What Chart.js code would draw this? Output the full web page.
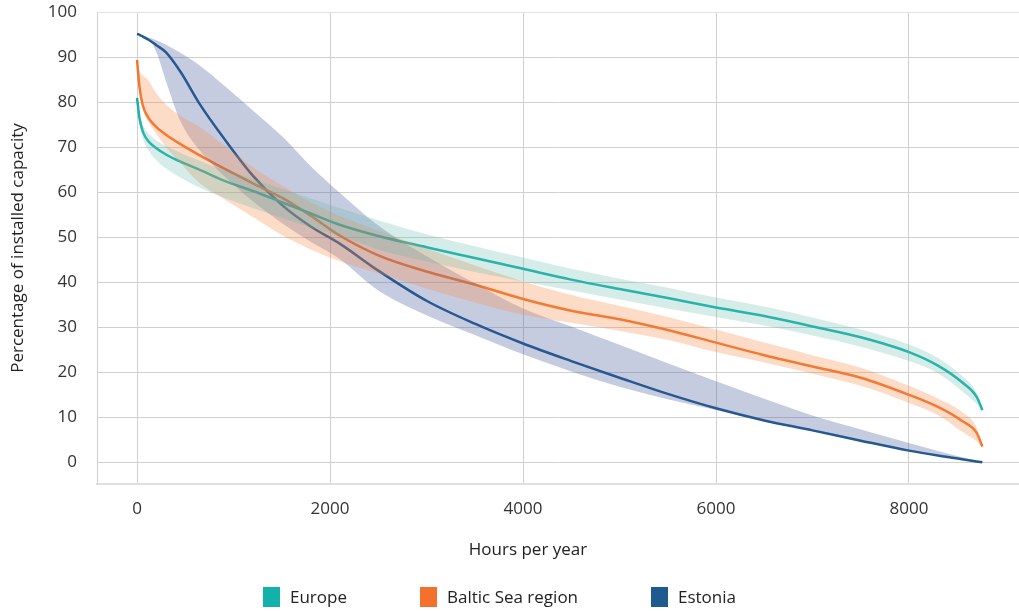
<!DOCTYPE html>
<html>
<head>
<meta charset="utf-8">
<script src="https://cdn.jsdelivr.net/npm/chart.js@4.4.1/dist/chart.umd.min.js"></script>
<style>
  html, body { margin: 0; padding: 0; background: #fff; }
  #wrap { position: relative; width: 1019px; height: 611px; overflow: hidden; font-family: 'Open Sans', sans-serif; color: #222; }
  #chart { position: absolute; left: 0; top: 0; }
  #xtitle { position: absolute; left: 428px; width: 200px; top: 538px; text-align: center; font-size: 17px; line-height: 22px; }
  .legend-item { position: absolute; top: 587px; display: flex; align-items: center; font-size: 17px; line-height: 20px; }
  .legend-box { width: 17px; height: 20px; margin-right: 10px; }
</style>
</head>
<body>
<div id="wrap">
  <canvas id="chart" width="1019" height="611"></canvas>
  <div id="xtitle">Hours per year</div>
  <div id="legend"></div>
</div>
<script>
// --- Data ---
const HOURS = [0, 25, 60, 120, 200, 300, 450, 650, 900, 1200, 1500, 1800, 2100, 2500, 3000,
               3500, 4000, 4500, 5000, 5500, 6000, 6500, 7000, 7500, 8000, 8300, 8550, 8700, 8760];

const EUROPE      = [81, 76.5, 73.5, 71.3, 69.8, 68.4, 66.8, 65, 62.6, 60.3, 57.8, 55.3, 52.8, 50.3, 47.8,
                     45.4, 43, 40.6, 38.5, 36.5, 34.4, 32.5, 30.2, 27.8, 24.5, 21.5, 17.8, 14.6, 11.6];
const EUROPE_HIGH = [81, 77.5, 75, 73, 71.5, 70.3, 68.8, 67, 65, 63, 60.8, 58.7, 56.5, 53.8, 50.7,
                     48, 45.5, 43, 40.8, 38.8, 36.6, 34.6, 32.2, 29.5, 26.2, 23.2, 19.2, 15.5, 11.6];
const EUROPE_LOW  = [81, 75.5, 72, 69.3, 67.2, 65.3, 63.3, 61, 58.8, 56.5, 54.3, 52.2, 50.3, 47.3, 44.6,
                     42.3, 40.2, 38.2, 36.2, 34.2, 32.3, 30.4, 28.2, 25.7, 22.5, 19.8, 15.8, 13, 11.6];

const BALTIC      = [89.4, 83.5, 79.3, 76.5, 74.5, 72.8, 70.7, 68.2, 65.3, 62, 58.8, 54.8, 50.4, 46, 42.4,
                     39.5, 36.3, 33.7, 31.8, 29.4, 26.6, 23.8, 21.3, 18.8, 15, 12.3, 9.2, 6.6, 3.5];
const BALTIC_HIGH = [89.4, 87, 86, 84.8, 82, 79.5, 77, 74.5, 70.5, 65.6, 61.5, 57.8, 54.8, 51.5, 47.5,
                     43.8, 40.2, 37.2, 34.8, 32.3, 29.5, 26.6, 23.8, 21, 17, 14.2, 11.2, 7.8, 3.5];
const BALTIC_LOW  = [89.4, 82.5, 78.5, 75.5, 73, 70, 66.5, 62, 58.5, 54.5, 50.5, 47.3, 44.7, 42, 38.6,
                     35.5, 32.8, 31, 29.2, 27.2, 24.5, 22.2, 19.7, 17, 13.2, 10.5, 6.8, 4.7, 3.5];

const ESTONIA      = [95.2, 95, 94.6, 93.9, 92.7, 91.1, 86.8, 79.6, 72, 63.7, 57.2, 52.4, 48.6, 42.6, 35.9,
                      30.8, 26.4, 22.5, 18.8, 15.2, 12, 9.3, 7.1, 4.8, 2.6, 1.5, 0.7, 0.2, 0];
const ESTONIA_HIGH = [95.2, 95.1, 94.9, 94.4, 93.8, 92.8, 91, 88.2, 83.8, 78.2, 72.5, 65.8, 59.9, 52.6, 45.8,
                      39.8, 34.2, 30.2, 26.1, 22, 18, 14.1, 10.4, 7.3, 4.3, 2.5, 1.1, 0.3, 0];
const ESTONIA_LOW  = [95.2, 95, 94.7, 94, 91.2, 84.7, 75.8, 69.3, 63.7, 58, 53.2, 49, 45.2, 38.2, 32.7,
                      28.3, 24, 20.2, 16.8, 14, 11.6, 9.1, 6.9, 4.7, 2.5, 1.4, 0.6, 0.2, 0];

const SERIES_NAMES = ['Europe', 'Baltic Sea region', 'Estonia'];
const X_TICKS = [0, 2000, 4000, 6000, 8000];
const Y_TICKS = [0, 10, 20, 30, 40, 50, 60, 70, 80, 90, 100];

// --- Styles ---
const LINE_COLORS = ['#12b1aa', '#f3712c', '#1e5a8f'];
const BAND_COLORS = ['rgba(99,185,174,0.27)', 'rgba(248,138,68,0.3)', 'rgba(65,85,152,0.3)'];
const LEGEND_LEFT = [263, 420, 651];

function points(values) {
  return HOURS.map((h, i) => ({ x: h, y: values[i] }));
}

function lineSet(label, values, i) {
  return {
    label, data: points(values),
    borderColor: LINE_COLORS[i], backgroundColor: LINE_COLORS[i],
    borderWidth: 2.5, pointRadius: 0, fill: false,
    cubicInterpolationMode: 'monotone', order: 2,
  };
}

// upper edge fills down to the lower edge (next dataset)
function bandSet(values, i, upper) {
  return {
    label: SERIES_NAMES[i] + (upper ? ' high' : ' low'),
    data: points(values),
    borderWidth: 0, pointRadius: 0,
    backgroundColor: BAND_COLORS[i],
    fill: upper ? '+1' : false,
    cubicInterpolationMode: 'monotone', order: 1,
  };
}

const tickFont = { family: "'Open Sans', sans-serif", size: 17 };

new Chart(document.getElementById('chart'), {
  type: 'line',
  data: {
    datasets: [
      lineSet(SERIES_NAMES[0], EUROPE, 0),
      lineSet(SERIES_NAMES[1], BALTIC, 1),
      lineSet(SERIES_NAMES[2], ESTONIA, 2),
      bandSet(EUROPE_HIGH, 0, true), bandSet(EUROPE_LOW, 0, false),
      bandSet(BALTIC_HIGH, 1, true), bandSet(BALTIC_LOW, 1, false),
      bandSet(ESTONIA_HIGH, 2, true), bandSet(ESTONIA_LOW, 2, false),
    ],
  },
  options: {
    responsive: false,
    animation: false,
    layout: { padding: { top: 12.3, right: 0, bottom: 0, left: 0 } },
    plugins: { legend: { display: false }, tooltip: { enabled: false } },
    scales: {
      x: {
        type: 'linear', min: -415, max: 9140,
        afterBuildTicks: (s) => { s.ticks = X_TICKS.map((v) => ({ value: v })); },
        afterFit: (s) => { s.height = 127.3; s.paddingLeft = 0; s.paddingRight = 0; },
        ticks: { color: '#333', font: tickFont, padding: 15, callback: (v) => String(v) },
        grid: { color: '#d0d0d0', drawTicks: false },
        border: { color: '#e0e0e0', width: 2 },
      },
      y: {
        min: -4.75, max: 100,
        afterBuildTicks: (s) => { s.ticks = Y_TICKS.map((v) => ({ value: v })); },
        afterFit: (s) => { s.width = 97; s.paddingTop = 0; s.paddingBottom = 0; },
        ticks: { color: '#333', font: tickFont, padding: 20, callback: (v) => String(v) },
        grid: { color: (c) => (c.tick && c.tick.value === 100 ? '#e2e2e2' : '#d0d0d0'), drawTicks: false },
        border: { color: '#d0d0d0', width: 1 },
        title: {
          display: true, text: 'Percentage of installed capacity', color: '#222',
          font: { family: "'Open Sans', sans-serif", size: 17 }, padding: { top: 8 },
        },
      },
    },
  },
});

// --- Legend ---
const legend = document.getElementById('legend');
SERIES_NAMES.forEach((name, i) => {
  const item = document.createElement('div');
  item.className = 'legend-item';
  item.style.left = LEGEND_LEFT[i] + 'px';
  item.innerHTML = `<span class="legend-box" style="background:${LINE_COLORS[i]}"></span><span>${name}</span>`;
  legend.appendChild(item);
});
</script>
</body>
</html>
